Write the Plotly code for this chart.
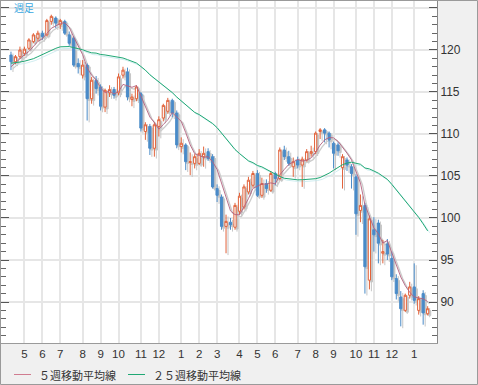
import pandas as pd
import plotly.graph_objects as go

# ---------------- data (weekly candles) ----------------
first_week = "2007-04-16"

# closes of the weeks before the first visible candle (needed for the moving averages)
prior_close = [118.3, 117.5, 117.7, 117.6, 117.9, 115.9, 115.4, 116.0, 117.8, 118.3, 119.0, 120.7,
               121.3, 121.4, 121.0, 121.4, 119.4, 120.4, 116.3, 117.4, 116.6, 117.6, 117.9, 119.3]

open_ = [119.4, 118.6, 119.2, 119.6, 120.2, 121.0, 121.4, 122.0, 121.8, 123.4,
         123.8, 123.0, 123.4, 121.8, 121.4, 118.4, 117.0, 118.2, 114.2, 116.4,
         115.6, 113.2, 114.9, 115.3, 114.9, 117.0, 117.4, 114.1, 114.2, 114.8,
         110.3, 110.9, 108.3, 110.9, 111.9, 112.7, 114.0, 112.5, 108.5, 108.7,
         106.6, 106.5, 106.5, 107.3, 107.9, 107.3, 103.5, 102.5, 99.0, 99.5,
         98.9, 100.8, 101.3, 103.1, 103.9, 105.3, 102.7, 104.1, 103.3, 105.3,
         104.7, 108.1, 107.3, 106.1, 106.9, 106.3, 106.9, 107.7, 107.9, 110.3,
         110.5, 110.1, 108.9, 108.7, 106.0, 106.9, 106.1, 104.9, 100.9, 101.5,
         92.6, 98.6, 99.4, 95.8, 96.9, 95.2, 92.8, 90.6, 89.0, 90.8,
         91.8, 89.0, 91.0, 88.6]
high = [119.8, 119.4, 120.4, 120.4, 121.4, 122.0, 122.3, 122.3, 123.7, 124.2,
        124.0, 123.7, 123.6, 122.2, 121.6, 119.0, 118.8, 118.4, 116.8, 116.9,
        115.9, 115.4, 115.8, 115.6, 117.2, 118.0, 117.9, 114.8, 115.8, 115.0,
        111.4, 111.2, 111.4, 112.1, 113.6, 114.3, 114.2, 112.8, 109.6, 108.9,
        107.8, 107.6, 108.2, 108.5, 108.3, 107.6, 104.0, 102.8, 100.4, 100.0,
        101.8, 103.0, 104.0, 104.9, 105.6, 105.7, 104.8, 104.6, 105.6, 105.5,
        108.4, 108.6, 108.0, 107.2, 107.3, 107.3, 108.2, 108.6, 110.3, 110.7,
        110.7, 110.3, 109.1, 109.0, 107.6, 107.2, 106.4, 105.2, 102.8, 101.8,
        100.3, 100.1, 99.8, 97.4, 97.5, 96.0, 93.3, 91.3, 91.0, 92.4,
        94.6, 90.7, 91.4, 89.5]
low = [117.6, 118.3, 118.9, 119.3, 120.0, 120.8, 121.0, 121.2, 121.6, 123.0,
       122.6, 122.5, 121.8, 120.5, 118.0, 117.2, 116.6, 111.6, 113.6, 114.8,
       112.8, 112.6, 114.4, 114.2, 114.6, 116.6, 114.0, 113.3, 113.9, 110.3,
       109.3, 107.5, 107.3, 109.7, 111.5, 112.4, 112.0, 108.3, 107.8, 105.7,
       105.1, 105.9, 106.3, 106.1, 106.8, 103.5, 101.9, 98.6, 95.8, 98.6,
       98.6, 100.4, 101.0, 102.8, 103.6, 102.5, 102.4, 103.0, 103.1, 103.9,
       104.5, 106.9, 106.2, 104.9, 105.9, 103.7, 106.7, 107.3, 107.6, 109.4,
       109.0, 108.4, 105.9, 107.4, 103.5, 105.6, 103.5, 98.0, 99.5, 91.0,
       91.5, 96.0, 94.6, 94.6, 95.0, 92.6, 90.3, 87.1, 88.8, 90.4,
       89.8, 88.5, 87.3, 88.4]
close = [118.6, 119.2, 120.0, 120.1, 121.2, 121.8, 122.0, 121.6, 123.5, 124.0,
         123.2, 123.5, 122.0, 120.8, 118.2, 118.0, 118.2, 114.2, 116.4, 115.4,
         113.3, 115.2, 115.3, 114.6, 116.8, 117.6, 114.4, 114.4, 115.6, 110.7,
         111.1, 108.3, 111.1, 111.7, 113.4, 114.0, 112.5, 108.7, 108.9, 106.7,
         106.7, 107.3, 107.7, 107.7, 107.1, 103.7, 102.7, 99.0, 99.6, 99.2,
         101.5, 102.6, 103.7, 104.5, 105.3, 102.7, 104.1, 103.5, 105.3, 104.7,
         108.1, 107.3, 106.5, 106.7, 106.3, 107.0, 107.9, 107.9, 110.1, 110.5,
         110.1, 109.3, 107.7, 108.0, 107.3, 106.3, 105.3, 100.5, 101.5, 94.2,
         99.9, 98.0, 97.0, 96.0, 95.7, 93.0, 91.0, 89.2, 90.8, 91.8,
         90.2, 90.4, 88.7, 89.2]

y_tick_values = [90, 95, 100, 105, 110, 115, 120, 125]
y_tick_labels = ["90", "95", "100", "105", "110", "115", "120", ""]
ma5_name = "５週移動平均線"
ma25_name = "２５週移動平均線"
title_text = "週足"

# ---------------- derived ----------------
dates = pd.date_range(first_week, periods=len(close), freq="7D")
all_close = pd.Series(prior_close + close)
ma5 = all_close.rolling(5).mean().iloc[len(prior_close):].tolist()
ma25 = all_close.rolling(25).mean().iloc[len(prior_close):].tolist()

tickvals, ticktext, seen = [], [], set()
for d in dates:
    key = (d.year, d.month)
    if key not in seen:
        seen.add(key)
        if d.day <= 7:
            tickvals.append(d)
            ticktext.append(str(d.month))

# ---------------- styling ----------------
INC = "#e2623a"
DEC = "#4a8bc8"
SHADOW = "#c6c6c6"
MA5_C = "#b2607e"
MA25_C = "#1fa874"

x0 = dates[0] - pd.Timedelta(days=15.6)
x1 = dates[-1] + pd.Timedelta(days=14.6)
y0, y1 = 85.12, 125.83
sx = pd.Timedelta(days=3.1)   # shadow offset ~2px right
sy = 0.22                     # shadow offset ~2px down

fig = go.Figure()

# invisible trace so that the main (gridded, labelled) axes are drawn
fig.add_trace(go.Scatter(x=dates, y=close, mode="markers", marker=dict(opacity=0, size=1),
                         hoverinfo="skip", showlegend=False))

# shadows (on overlay axes 2)
fig.add_trace(go.Candlestick(
    x=dates, open=open_, high=high, low=low, close=close,
    xaxis="x2", yaxis="y2",
    increasing=dict(line=dict(color=SHADOW, width=1), fillcolor=SHADOW),
    decreasing=dict(line=dict(color=SHADOW, width=1), fillcolor=SHADOW),
    hoverinfo="skip", showlegend=False))
fig.add_trace(go.Scatter(x=dates, y=ma5, mode="lines", xaxis="x2", yaxis="y2",
                         line=dict(color="#cccccc", width=1.3), hoverinfo="skip", showlegend=False))
fig.add_trace(go.Scatter(x=dates, y=ma25, mode="lines", xaxis="x2", yaxis="y2",
                         line=dict(color="#c4e8ec", width=0.8), hoverinfo="skip", showlegend=False))

# main marks (on overlay axes 3)
fig.add_trace(go.Candlestick(
    x=dates, open=open_, high=high, low=low, close=close,
    xaxis="x3", yaxis="y3",
    increasing=dict(line=dict(color=INC, width=1), fillcolor="white"),
    decreasing=dict(line=dict(color=DEC, width=1), fillcolor=DEC),
    showlegend=False, name="週足"))
fig.add_trace(go.Scatter(x=dates, y=ma5, mode="lines", xaxis="x3", yaxis="y3",
                         line=dict(color=MA5_C, width=0.9), name=ma5_name, showlegend=False))
fig.add_trace(go.Scatter(x=dates, y=ma25, mode="lines", xaxis="x3", yaxis="y3",
                         line=dict(color=MA25_C, width=1), name=ma25_name, showlegend=False))

num_font = dict(family="Liberation Sans, Arial, sans-serif", size=11.5, color="#333")
cjk = "Noto Sans CJK JP, sans-serif"

hidden_x = dict(type="date", overlaying="x", visible=False, rangeslider=dict(visible=False))
hidden_y = dict(overlaying="y", visible=False)

fig.update_layout(
    width=478, height=385,
    margin=dict(l=1, r=41, t=1, b=42),
    paper_bgcolor="#f0f0f0", plot_bgcolor="white",
    showlegend=False,
    xaxis=dict(type="date", range=[x0, x1], tickmode="array", tickvals=tickvals, ticktext=ticktext,
               showgrid=True, gridcolor="#e6e6e6", gridwidth=1.5, zeroline=False,
               showline=True, linecolor="#9a9a9a", linewidth=1, mirror=True, ticks="",
               tickfont=num_font, rangeslider=dict(visible=False), fixedrange=True),
    yaxis=dict(side="right", range=[y0, y1], tickmode="array", tickvals=y_tick_values,
               ticktext=y_tick_labels, showgrid=True, gridcolor="#e6e6e6", gridwidth=1.5,
               zeroline=False, ticks="inside", ticklen=8, tickcolor="#555", tickwidth=1,
               minor=dict(tickmode="linear", tick0=0, dtick=1, ticks="inside", ticklen=5,
                          tickcolor="#666", showgrid=False),
               showline=True, linecolor="#888", linewidth=1, mirror="ticks",
               tickfont=dict(family="Liberation Sans, Arial, sans-serif", size=12, color="#333")),
    xaxis2=dict(hidden_x, range=[x0 - sx, x1 - sx]),
    yaxis2=dict(hidden_y, range=[y0 + sy, y1 + sy]),
    xaxis3=dict(hidden_x, range=[x0, x1]),
    yaxis3=dict(hidden_y, range=[y0, y1]),
)

# legend drawn at the bottom-left
W, H = 436.0, 342.0
def px_x(p):
    return (p - 1) / W
def px_y(p):
    return (343 - p) / H

ly = px_y(374.5)
fig.add_shape(type="line", xref="paper", yref="paper", x0=px_x(14), x1=px_x(31), y0=ly, y1=ly,
              line=dict(color="#d07c90", width=1))
fig.add_shape(type="line", xref="paper", yref="paper", x0=px_x(128), x1=px_x(145), y0=ly, y1=ly,
              line=dict(color=MA25_C, width=1))
fig.add_annotation(xref="paper", yref="paper", x=px_x(37), y=ly, text=ma5_name, showarrow=False,
                   xanchor="left", yanchor="middle", font=dict(family=cjk, size=11, color="#333"))
fig.add_annotation(xref="paper", yref="paper", x=px_x(151), y=ly, text=ma25_name, showarrow=False,
                   xanchor="left", yanchor="middle", font=dict(family=cjk, size=11, color="#333"))
fig.add_annotation(xref="paper", yref="paper", x=px_x(12), y=px_y(7), text=title_text, showarrow=False,
                   xanchor="left", yanchor="middle", font=dict(family=cjk, size=10, color="#3aa6e0"))
# outer frame
fig.add_shape(type="rect", xref="paper", yref="paper", x0=px_x(0.5), x1=px_x(477.5),
              y0=px_y(384.5), y1=px_y(0.5), line=dict(color="#9a9a9a", width=1), layer="above")

fig.write_html("out.html", config={"displayModeBar": False},
               post_script="document.body.style.margin='0';")
